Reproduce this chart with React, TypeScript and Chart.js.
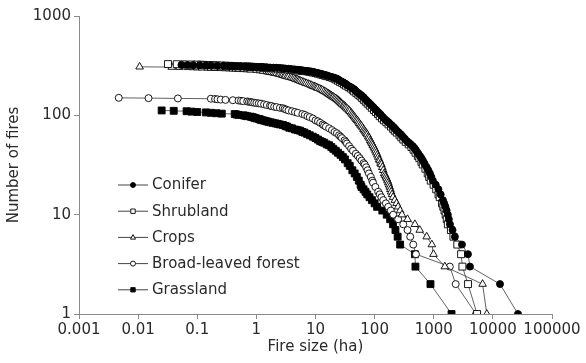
import React, { useEffect, useRef } from "react";
import { Chart, registerables } from "chart.js";

Chart.register(...registerables);

// Cumulative fire counts: number of fires at least as large as each size (ha)
const coniferSize = [0.054, 0.068, 0.085, 0.11, 0.14, 0.17, 0.22, 0.28, 0.35, 0.40, 0.46, 0.54, 0.62, 0.72, 0.85, 1.0, 1.15, 1.3, 1.5, 1.7, 1.95, 2.2, 2.5, 2.8, 3.1, 3.5, 3.9, 4.4, 4.9, 5.4, 5.8, 6.3, 6.9, 7.5, 8.2, 9, 9.8, 10.6, 11.5, 12.4, 13.3, 14.3, 15.6, 17, 18.8, 20.6, 21.8, 23, 24.5, 26, 28, 30, 32, 34, 36.5, 39.5, 42.5, 45.5, 47.5, 50, 53.5, 57, 61, 65, 69, 74, 79, 84, 90, 96, 103, 109, 116, 124, 131, 140, 150, 161, 172, 183, 196, 210, 224, 238, 258, 280, 300, 325, 351, 380, 410, 440, 470, 495, 519, 550, 585, 620, 655, 690, 708, 760, 810, 860, 910, 967, 1080, 1200, 1310, 1430, 1500, 1580, 1650, 1730, 1800, 1880, 2080, 2280, 3000, 3790, 4100, 13200, 26600];
const coniferFires = [322, 321, 320, 319, 318, 317, 316, 315, 314, 313, 312, 311, 310, 309, 308, 307, 306, 305, 304, 303, 302, 301, 300, 298, 296, 294, 292, 290, 288, 286, 284, 282, 280, 278, 276, 273, 270, 267, 264, 261, 258, 255, 251, 247, 243, 239, 236, 233, 228, 223, 218, 213, 208, 202, 197, 192, 187, 182, 177, 172, 167, 162, 157, 152, 146, 140, 135, 130, 125, 120, 115, 111, 107, 103, 99, 95, 91, 88, 85, 82, 79, 76, 73, 70, 67, 64, 61, 58, 55, 53, 51, 49, 47, 45, 43, 41, 39, 37, 35, 33, 32, 30, 28, 26, 24, 22, 20, 18, 16, 14, 13, 12, 11, 10, 9, 8, 7, 6, 5, 4, 3, 2, 1];

const shrublandSize = [0.032, 0.045, 0.06, 0.08, 0.1, 0.115, 0.13, 0.15, 0.17, 0.19, 0.22, 0.26, 0.3, 0.35, 0.4, 0.45, 0.5, 0.6, 0.7, 0.76, 0.83, 0.9, 1.0, 1.1, 1.2, 1.3, 1.4, 1.65, 1.95, 2.3, 2.6, 3.0, 3.4, 4.0, 4.9, 5.4, 5.9, 6.6, 7.5, 8.0, 8.5, 9.0, 10.0, 11.0, 12.2, 13.2, 14.4, 15.3, 17.3, 19.3, 21.2, 22.4, 24, 26, 28.3, 30.4, 32.7, 36.3, 39.6, 42.8, 45, 49.2, 53.2, 57.6, 61.6, 65.8, 70.8, 76.4, 82.8, 89.6, 97.5, 105, 114, 122, 133, 144, 158, 172, 189, 206, 219, 237, 264, 283, 306, 336, 377, 419, 455, 492, 538, 570, 618, 651, 722, 791, 837, 890, 994, 1100, 1205, 1260, 1380, 1450, 1520, 1590, 1660, 1730, 1950, 2150, 2500, 2900, 3050, 3800, 5400];
const shrublandFires = [328, 327, 326, 325, 324, 323, 322, 321, 320, 319, 318, 317, 316, 315, 314, 313, 312, 311, 310, 309, 308, 307, 306, 305, 304, 303, 302, 300, 298, 296, 294, 292, 290, 287, 284, 282, 280, 278, 276, 274, 272, 270, 266, 262, 258, 255, 251, 248, 243, 238, 233, 229, 223, 217, 211, 205, 199, 192, 186, 180, 174, 167, 161, 155, 149, 143, 137, 131, 125, 119, 113, 108, 103, 98, 93, 89, 85, 81, 77, 73, 70, 67, 63, 60, 57, 54, 51, 48, 45, 42, 39, 37, 34, 32, 29, 26, 24, 22, 20, 18, 16, 15, 13, 12, 11, 10, 9, 8, 7, 6, 5, 4, 3, 2, 1];

const cropsSize = [0.0106, 0.037, 0.05, 0.07, 0.085, 0.1, 0.12, 0.15, 0.17, 0.2, 0.25, 0.3, 0.35, 0.4, 0.45, 0.5, 0.6, 0.7, 0.8, 1.0,
  1.15, 1.3, 1.5, 1.6, 1.7, 1.82, 1.95, 2.07, 2.2, 2.38, 2.5, 2.67, 2.8, 2.98, 3.1, 3.32, 3.5, 3.78, 4.0, 4.25,
  4.5, 4.75, 5.0, 5.25, 5.5, 5.85, 6.2, 6.6, 7.0, 7.5, 8.0, 8.5, 9.0, 9.5, 10, 10.5, 11, 11.8, 12.5, 13.2,
  14, 14.8, 15.5, 16.3, 17, 17.8, 18.5, 19.3, 20, 21, 22, 23, 24, 25, 26, 27, 28, 29.5, 30.5, 31.8,
  33, 34.7, 36.5, 38, 40, 41.8, 43.5, 45.2, 47, 49, 51, 53, 55, 57.5, 60, 62.5, 65, 67.5, 70, 72.5,
  75, 78, 81, 84, 87, 90, 93, 96.5, 100, 103.5, 107, 111, 115, 119, 122, 126, 130, 135, 140, 145,
  150, 155, 160, 165, 170, 175, 180, 185, 190, 197, 205, 220, 235, 250, 270, 290, 360, 480, 580, 760,
  930, 990, 1540, 6700, 7900];
const cropsFires = [308, 306, 305, 304, 303, 302, 301, 300, 299, 298, 297, 296, 295, 294, 293, 292, 290, 289, 287, 285,
  282, 279, 276, 274, 272, 270, 268, 266, 264, 261, 259, 256, 254, 251, 249, 246, 244, 241, 239, 236,
  233, 230, 228, 225, 222, 219, 216, 213, 210, 207, 204, 201, 197, 195, 193, 190, 188, 185, 182, 179,
  175, 172, 169, 166, 163, 160, 158, 155, 153, 150, 148, 145, 142, 139, 136, 133, 130, 127, 125, 122,
  119, 116, 113, 110, 106, 103, 100, 97, 94, 91, 89, 86, 83, 80, 78, 75, 72, 70, 68, 66,
  64, 61, 59, 56, 54, 52, 50, 48, 46, 44, 42, 40, 38, 36, 35, 33, 32, 30, 28, 26,
  25, 24, 23, 22, 21, 20, 19, 18, 17, 16, 15, 14, 13, 12, 11, 10, 9, 8, 7, 6,
  5, 4, 3, 2, 1];

const broadleafSize = [0.0047, 0.015, 0.047, 0.17, 0.2, 0.22, 0.25, 0.3, 0.4, 0.5, 0.55, 0.6, 0.7, 0.75, 0.8, 0.85, 0.92, 1.0, 1.1, 1.2, 1.35, 1.5, 1.7, 1.8, 2.0, 2.2, 2.5, 2.8, 3.0, 3.2, 3.5, 4.0, 4.5, 5.0, 6.0, 6.6, 7.3, 8, 9, 10, 11, 12, 13.2, 14, 15, 17, 19, 21, 23, 25, 26.5, 28, 31, 32.5, 34, 37, 40, 43, 48, 52, 56, 60, 65, 68, 72, 76, 80, 86, 91, 94, 103, 115, 122, 130, 140, 155, 170, 188, 206, 250, 305, 360, 400, 450, 500, 1870, 2350, 5200];
const broadleafFires = [150, 149, 148, 147, 146, 145, 144, 143, 142, 141, 140, 139, 138, 137, 136, 135, 134, 133, 132, 131, 129, 127, 125, 124, 122, 121, 119, 118, 116, 114, 112, 110, 108, 106, 103, 101, 98, 96, 93, 89, 87, 84, 81, 79, 77, 74, 71, 68, 66, 63, 61, 59, 56, 54, 52, 49, 46, 44, 41, 39, 37, 35, 33, 32, 30, 28, 26, 24, 22, 21, 19, 17, 16, 15, 14, 13, 12, 11, 10, 9, 8, 7, 6, 5, 4, 3, 2, 1];

const grasslandSize = [0.025, 0.04, 0.066, 0.08, 0.1, 0.14, 0.17, 0.21, 0.26, 0.43, 0.46, 0.5, 0.6, 0.65, 0.7, 0.8, 0.85, 0.9, 0.95, 1.0, 1.1, 1.15, 1.2, 1.3, 1.4, 1.5, 1.6, 1.75, 1.9, 2.1, 2.3, 2.5, 2.8, 3.1, 3.3, 3.6, 4.0, 4.5, 5.0, 5.5, 6.0, 6.5, 7.2, 8, 9, 10, 11, 12, 13, 14, 15.5, 17, 18.5, 20, 22, 24, 26.5, 29, 31.5, 35, 38, 42, 46, 50, 54, 58, 60, 65, 70, 75, 82, 90, 100, 110, 135, 160, 183, 205, 225, 245, 270, 480, 490, 880, 2000];
const grasslandFires = [112, 111, 110, 109, 108, 107, 106, 105, 104, 103, 102, 101, 100, 99, 98, 97, 96, 95, 94, 93, 92, 91, 90, 89, 88, 87, 86, 85, 84, 83, 82, 81, 80, 78, 77, 75, 74, 72, 71, 70, 68, 67, 65, 63, 61, 59, 57, 55, 54, 53, 51, 50, 48, 46, 44, 42, 40, 38, 36, 33, 31, 28, 26, 24, 22, 20, 19, 18, 17, 16, 15, 14, 13, 12, 11, 10, 9, 8, 7, 6, 5, 4, 3, 2, 1];

const xTicks = [0.001, 0.01, 0.1, 1, 10, 100, 1000, 10000, 100000];
const xTickLabels = ["0.001", "0.01", "0.1", "1", "10", "100", "1000", "10000", "100000"];
const yTicks = [1, 10, 100, 1000];
const yTickLabels = ["1", "10", "100", "1000"];

const FONT_FAMILY = '"DejaVu Sans", "Liberation Sans", sans-serif';
const INK = "#2a2a2a";
const AXIS_GREY = "#8a8a8a";

type Marker = "circle" | "rect" | "triangle";

interface SeriesDef {
  label: string;
  sizes: number[];
  fires: number[];
  marker: Marker;
  filled: boolean;
}

const seriesDefs: SeriesDef[] = [
  { label: "Conifer", sizes: coniferSize, fires: coniferFires, marker: "circle", filled: true },
  { label: "Shrubland", sizes: shrublandSize, fires: shrublandFires, marker: "rect", filled: false },
  { label: "Crops", sizes: cropsSize, fires: cropsFires, marker: "triangle", filled: false },
  { label: "Broad-leaved forest", sizes: broadleafSize, fires: broadleafFires, marker: "circle", filled: false },
  { label: "Grassland", sizes: grasslandSize, fires: grasslandFires, marker: "rect", filled: true },
];

function markerRadius(m: Marker): number {
  if (m === "rect") return 4.9;
  if (m === "triangle") return 4.4;
  return 3.5;
}

function drawMarker(ctx: CanvasRenderingContext2D, m: Marker, x: number, y: number, r: number, filled: boolean) {
  ctx.beginPath();
  if (m === "circle") {
    ctx.arc(x, y, r, 0, Math.PI * 2);
  } else if (m === "rect") {
    ctx.rect(x - r, y - r, r * 2, r * 2);
  } else {
    ctx.moveTo(x, y - r * 1.1);
    ctx.lineTo(x + r, y + r * 0.7);
    ctx.lineTo(x - r, y + r * 0.7);
    ctx.closePath();
  }
  ctx.fillStyle = filled ? "#000" : "#fff";
  ctx.fill();
  ctx.lineWidth = 0.9;
  ctx.strokeStyle = "#000";
  ctx.stroke();
}

// Legend drawn inside the plot area, lower left
const insideLegend = {
  id: "insideLegend",
  afterDraw(chart: Chart) {
    const { ctx } = chart;
    ctx.save();
    seriesDefs.forEach((s, i) => {
      const y = 185 + i * 26.2;
      ctx.strokeStyle = "#444";
      ctx.lineWidth = 1;
      ctx.beginPath();
      ctx.moveTo(118, y);
      ctx.lineTo(148, y);
      ctx.stroke();
      drawMarker(ctx, s.marker, 133, y, s.marker === "rect" ? 2.2 : 2.5, s.filled);
      ctx.fillStyle = INK;
      ctx.font = `15px ${FONT_FAMILY}`;
      ctx.textBaseline = "middle";
      ctx.textAlign = "left";
      ctx.fillText(s.label, 152, y + 0.5);
    });
    ctx.restore();
  },
};

export default function App() {
  const canvasRef = useRef<HTMLCanvasElement | null>(null);

  useEffect(() => {
    const canvas = canvasRef.current;
    if (!canvas) return;
    const font = { family: FONT_FAMILY, size: 15 };
    const chart = new Chart(canvas, {
      type: "line",
      data: {
        datasets: seriesDefs.map((s) => ({
          label: s.label,
          data: s.sizes.map((x, i) => ({ x, y: s.fires[i] })),
          borderColor: "#3a3a3a",
          borderWidth: 0.8,
          pointStyle: s.marker,
          pointRadius: markerRadius(s.marker),
          pointBackgroundColor: s.filled ? "#000" : "#fff",
          pointBorderColor: "#000",
          pointBorderWidth: 0.9,
          tension: 0,
          fill: false,
        })),
      },
      options: {
        animation: false,
        responsive: false,
        events: [],
        layout: { padding: { top: 16, right: 34, left: 0, bottom: 0 } },
        plugins: { legend: { display: false }, tooltip: { enabled: false } },
        scales: {
          x: {
            type: "logarithmic",
            min: 0.001,
            max: 100000,
            afterBuildTicks: (scale: any) => {
              scale.ticks = xTicks.map((v) => ({ value: v }));
            },
            afterFit: (scale: any) => {
              scale.height = 49;
            },
            ticks: {
              callback: (v: any) => {
                const i = xTicks.indexOf(Number(v));
                return i >= 0 ? xTickLabels[i] : "";
              },
              font,
              color: INK,
              padding: 2,
              maxRotation: 0,
              autoSkip: false,
            },
            grid: { drawOnChartArea: false, tickLength: 5, color: AXIS_GREY },
            border: { color: AXIS_GREY },
            title: {
              display: true,
              text: "Fire size (ha)",
              font,
              color: INK,
              padding: { top: 0, bottom: 7 },
            },
          },
          y: {
            type: "logarithmic",
            min: 1,
            max: 1000,
            afterBuildTicks: (scale: any) => {
              scale.ticks = yTicks.map((v) => ({ value: v }));
            },
            afterFit: (scale: any) => {
              scale.width = 79;
            },
            ticks: {
              callback: (v: any) => {
                const i = yTicks.indexOf(Number(v));
                return i >= 0 ? yTickLabels[i] : "";
              },
              font,
              color: INK,
              padding: 3,
              autoSkip: false,
            },
            grid: { drawOnChartArea: false, tickLength: 5, color: AXIS_GREY },
            border: { color: AXIS_GREY },
            title: {
              display: true,
              text: "Number of fires",
              font,
              color: INK,
              padding: { top: 5, bottom: 0 },
            },
          },
        },
      },
      plugins: [insideLegend],
    } as any);
    return () => chart.destroy();
  }, []);

  return (
    <div style={{ position: "absolute", left: 0, top: 0, width: 586, height: 363, background: "#fff" }}>
      <canvas ref={canvasRef} width={586} height={363} />
    </div>
  );
}
